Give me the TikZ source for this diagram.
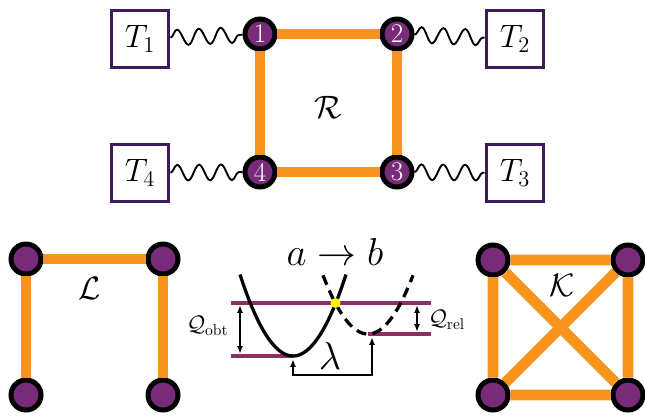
\documentclass[tikz,border=0pt]{standalone}
\usepackage{amsmath}
\usepackage{xcolor}
\usepackage{tikz}
\usetikzlibrary{arrows.meta, decorations.pathmorphing}
\definecolor{sitio}{HTML}{772B78}
\definecolor{enlace}{HTML}{F7941D}
\definecolor{bano}{HTML}{3D1A5B}
\definecolor{nivel}{HTML}{8E2F64}

\begin{document}
\begin{tikzpicture}[
  x=0.0225cm, y=-0.0225cm,
  site/.style={circle, draw=black, line width=3.2pt, fill=sitio, minimum size=19.2pt, inner sep=0pt, text=white, font=\LARGE},
  bath/.style={draw=bano, line width=2pt, minimum width=37pt, minimum height=36.5pt, inner sep=0pt, font=\huge},
  bond/.style={draw=enlace, line width=7pt},
  wave/.style={draw=black, line width=1.2pt, decorate, decoration={snake, segment length=14pt, amplitude=5pt}},
  curve/.style={line width=2.1pt},
  eline/.style={draw=nivel, line width=2pt},
  gap/.style={{Latex[length=5pt]}-{Latex[length=5pt]}, line width=1pt},
  tag/.style={font=\huge}
]
\useasboundingbox (0,0) rectangle (645,415);

% red de cuatro sitios con sus banos
\node[bath] (t1) at (140,39) {$T_1$};
\node[bath] (t2) at (515,39) {$T_2$};
\node[bath] (t3) at (515,173) {$T_3$};
\node[bath] (t4) at (140,173) {$T_4$};
\node[site] (n1) at (260,34) {1};
\node[site] (n2) at (397,34) {2};
\node[site] (n3) at (397,172) {3};
\node[site] (n4) at (260,172) {4};
\node[tag] (R) at (328,107) {$\mathcal{R}$};

\draw[bond] (n1) -- (n2) (n2) -- (n3) (n3) -- (n4) (n4) -- (n1);
\draw[wave] (t1) -- (n1);
\draw[wave] (n2) -- (t2);
\draw[wave] (n3) -- (t3);
\draw[wave] (t4) -- (n4);

% cadena lineal
\node[site] (l1) at (26,259) {};
\node[site] (l2) at (163,259) {};
\node[site] (l3) at (26,395) {};
\node[site] (l4) at (163,395) {};
\node[tag] (L) at (90,288) {$\mathcal{L}$};
\draw[bond] (l3) -- (l1) (l1) -- (l2) (l2) -- (l4);

% grafo completo
\node[site] (k1) at (493,260) {};
\node[site] (k2) at (628,260) {};
\node[site] (k3) at (493,395) {};
\node[site] (k4) at (628,395) {};
\node[tag] (K) at (562,285) {$\mathcal{K}$};
\draw[bond] (k1) -- (k2) (k2) -- (k4) (k4) -- (k3) (k3) -- (k1) (k1) -- (k4) (k2) -- (k3);

% parabolas de Marcus
\draw[eline] (231,303) -- (431,303);
\draw[eline] (231,356) -- (293,356);
\draw[eline] (368,334) -- (431,334);
\draw[curve] plot[domain=240:346, samples=60, smooth] (\x, {356-0.029*(\x-293)^2});
\draw[curve, dash pattern=on 6.5pt off 4pt] plot[domain=323:413, samples=60, smooth] (\x, {334-0.029*(\x-368)^2});
\fill[yellow] (335.5,303) circle[radius=3.2pt];

\draw[gap] (240,305) -- (240,354);
\draw[gap] (417,305) -- (417,332);
\draw[gap] (293,359) -- (293,375) -- (372,375) -- (372,337);

\node[font=\fontsize{23}{26}\selectfont, anchor=base] (ab) at (335,265) {$a\rightarrow b$};
\node[font=\Large, anchor=east] (qo) at (234,326) {$\mathcal{Q}_{\text{obt}}$};
\node[font=\Large, anchor=west] (qr) at (423,320) {$\mathcal{Q}_{\text{rel}}$};
\node[font=\Huge] (lam) at (330,356) {$\lambda$};

\end{tikzpicture}
\end{document}
